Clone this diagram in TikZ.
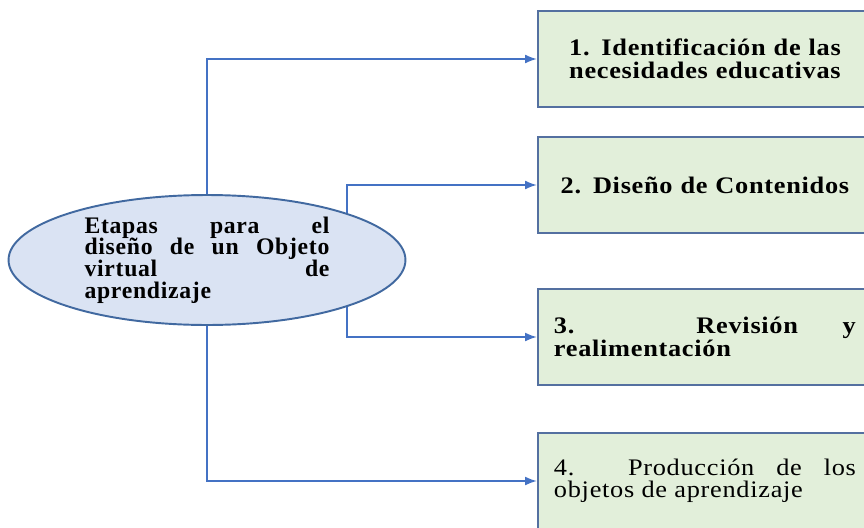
\documentclass[tikz,border=0pt]{standalone}
\usepackage{fontspec}
\setmainfont{Liberation Serif}
\newfontfamily\ovalfont[LetterSpace=3]{Liberation Serif}
\newfontfamily\widefont[LetterSpace=3, FakeStretch=1.11]{Liberation Serif}
\usepackage{tikz}
\usetikzlibrary{shapes.geometric, arrows.meta, positioning, calc, backgrounds}
\definecolor{linkblue}{RGB}{68, 114, 196}
\definecolor{ovalfill}{RGB}{218, 227, 243}
\definecolor{ovalborder}{RGB}{65, 105, 160}
\definecolor{stagefill}{RGB}{226, 239, 218}
\definecolor{stageborder}{RGB}{84, 112, 160}
\tikzset{
  font=\widefont\fontsize{13.5}{12.5}\selectfont,
  rootoval/.style={
    ellipse, draw=ovalborder, fill=ovalfill, line width=1.1pt,
    minimum width=7.94cm, minimum height=2.6cm, inner sep=0pt,
    text width=4.9cm, align=justify, font=\ovalfont\fontsize{13.5}{12.3}\selectfont\bfseries
  },
  stagebox/.style={
    rectangle, draw=stageborder, fill=stagefill, line width=1.1pt,
    minimum height=1.92cm, inner sep=0.32cm, text width=6.04cm
  },
  boldstage/.style={stagebox, font=\widefont\fontsize{13.5}{12.8}\selectfont\bfseries},
  linkline/.style={
    draw=linkblue, -{Latex[length=2.4mm, width=1.8mm]}, line width=1.1pt
  }
}
\begin{document}
\begin{tikzpicture}[x=0.02cm, y=-0.02cm]
  \clip (0,0) rectangle (864,527);
  \useasboundingbox (0,0) rectangle (864,527);

  \node[rootoval] (root) at (207,260)
    {Etapas para el\linebreak dise\~no de un Objeto\linebreak virtual de\linebreak aprendizaje};

  \node[boldstage, anchor=west, align=center] (ident) at (537,59)
    {1. Identificaci\'on de las\\ necesidades educativas};
  \node[boldstage, anchor=west, align=center] (design) at (537,185)
    {2. Dise\~no de Contenidos};
  \node[boldstage, anchor=west, align=justify] (review) at (537,337)
    {3. Revisi\'on y\linebreak realimentaci\'on};
  \node[stagebox, anchor=west, align=justify] (prod) at (537,481)
    {4. Producci\'on de los\linebreak objetos de aprendizaje};

  \begin{scope}[on background layer]
    \draw[linkline] (root.north) |- (ident.west);
    \draw[linkline] ($(root.center)!0.7!(root.east)$) |- (design.west);
    \draw[linkline] ($(root.center)!0.7!(root.east)$) |- (review.west);
    \draw[linkline] (root.south) |- (prod.west);
  \end{scope}
\end{tikzpicture}
\end{document}
